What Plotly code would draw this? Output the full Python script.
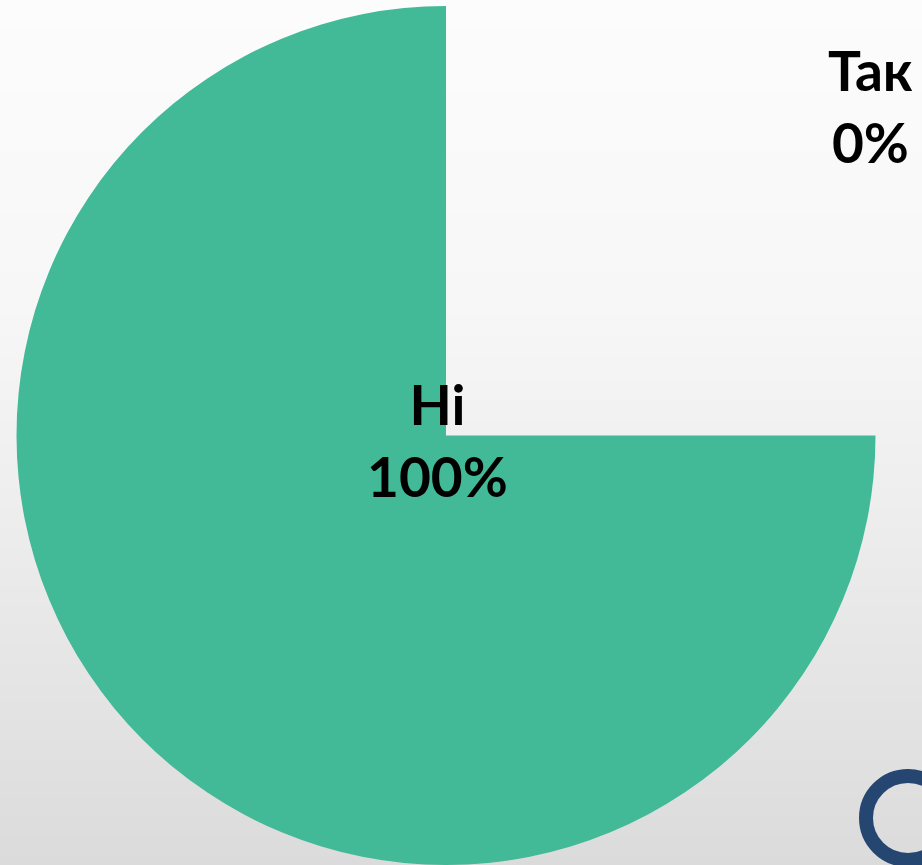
import plotly.graph_objects as go
import numpy as np

# ---- data ----
categories = ["Так", "Ні"]
slice_shares = [25, 75]          # angular share of each slice as drawn
label_percents = ["0%", "100%"]  # percentages printed on the chart
slice_colors = ["rgba(0,0,0,0)", "#42B997"]

W, H = 922, 865

fig = go.Figure()

# background vertical gradient (paper-wide heatmap)
grad_pos = [0.0, 0.35, 0.6, 1.0]           # from top to bottom (fraction)
grad_val = [252, 247, 237, 219]
ys = np.linspace(0, 1, 60)
vals = np.interp(1 - ys, grad_pos, grad_val)
fig.add_trace(go.Heatmap(
    z=[[v, v] for v in vals], x=[0, 1], y=ys,
    colorscale=[[0, "rgb(219,219,219)"], [1, "rgb(252,252,252)"]],
    zmin=219, zmax=252, showscale=False, zsmooth="best",
    hoverinfo="skip", xaxis="x", yaxis="y",
))

fig.add_trace(go.Pie(
    labels=categories,
    values=slice_shares,
    sort=False,
    direction="clockwise",
    rotation=0,
    marker=dict(colors=slice_colors, line=dict(width=0)),
    textinfo="none",
    hoverinfo="label",
    showlegend=False,
    domain=dict(x=[16 / W, 876 / W], y=[0, 1 - 6 / H]),
))

font = dict(family="Lato, 'Open Sans', sans-serif", size=55, color="#000000")
label_pos = {"Так": (870 / W, 1 - 106 / H), "Ні": (437 / W, 1 - 440 / H)}
for cat, pct in zip(categories, label_percents):
    x, y = label_pos[cat]
    fig.add_annotation(
        x=x, y=y, xref="paper", yref="paper",
        text=f"<b>{cat}</b><br><b>{pct}</b>",
        showarrow=False, font=font, align="center",
        xanchor="center", yanchor="middle",
    )

# partial logo ring at bottom right (cut by the figure edge)
cx, cy, r, lw = 908, 818, 42, 14
fig.add_shape(
    type="circle", xref="paper", yref="paper",
    x0=(cx - r) / W, x1=(cx + r) / W,
    y0=1 - (cy + r) / H, y1=1 - (cy - r) / H,
    line=dict(color="#254670", width=lw), fillcolor="rgba(0,0,0,0)",
)

fig.update_layout(
    width=W, height=H,
    margin=dict(l=0, r=0, t=0, b=0),
    paper_bgcolor="#f2f2f2",
    plot_bgcolor="rgba(0,0,0,0)",
    xaxis=dict(domain=[0, 1], range=[0, 1], visible=False, fixedrange=True),
    yaxis=dict(domain=[0, 1], range=[0, 1], visible=False, fixedrange=True),
)

fig.write_html(
    "out.html",
    config={"displayModeBar": False},
    post_script="document.body.style.margin='0';document.body.style.overflow='hidden';",
)
